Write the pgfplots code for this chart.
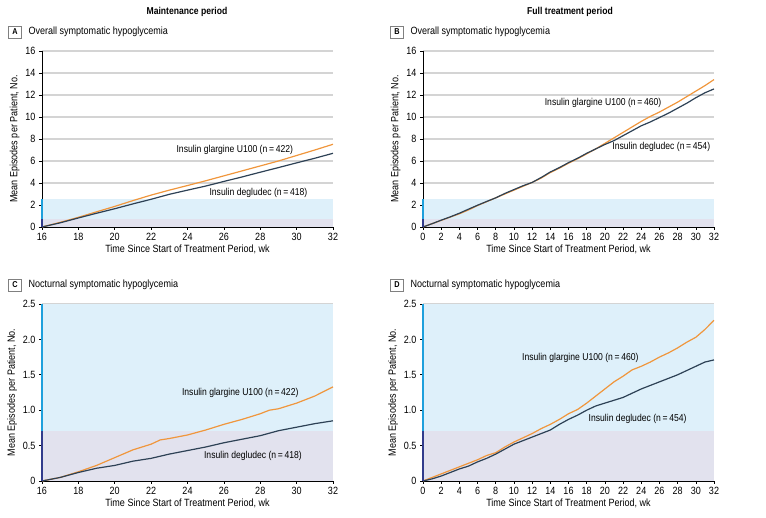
\documentclass[border=0pt]{standalone}
\usepackage{fontspec}
\setmainfont{Liberation Sans}[FakeStretch=0.86]
\usepackage{pgfplots}
\pgfplotsset{compat=1.18}
\definecolor{orL}{RGB}{240,150,60}
\definecolor{dkL}{RGB}{45,65,85}
\definecolor{bandB}{RGB}{222,240,250}
\definecolor{bandP}{RGB}{226,226,238}
\definecolor{spB}{RGB}{30,160,220}
\definecolor{spD}{RGB}{50,60,140}
\definecolor{gridg}{RGB}{212,212,212}
\tikzset{lab/.style={font=\fontsize{10}{12}\selectfont}}
\pgfplotsset{
  panel/.style={
    scale only axis, width=291pt, height=176pt,
    axis x line*=bottom, axis y line*=left,
    axis line style={black, line width=0.6pt},
    tick align=outside, major tick length=3pt,
    tick style={black, line width=0.6pt},
    ymajorgrids, grid style={gridg, line width=1.3pt},
    ticklabel style={font=\fontsize{10.5}{12}\selectfont},
    /pgf/number format/assume math mode=true,
    xlabel={Time Since Start of Treatment Period, wk},
    ylabel={Mean Episodes per Patient, No.},
    label style={font=\fontsize{10.5}{12}\selectfont},
    xlabel style={yshift=3pt},
    ylabel style={yshift=-1pt},
    clip=false, set layers,
  },
  pl/.style={line width=1.2pt},
}
\begin{document}
\begin{tikzpicture}
\path (0pt,0pt) rectangle (766pt,518pt);
\node[font=\fontsize{10}{12}\selectfont\bfseries] at (187pt,506pt) {Maintenance period};
\node[font=\fontsize{10}{12}\selectfont\bfseries] at (570pt,506pt) {Full treatment period};
% panel labels
\node[draw=gray, line width=0.5pt, inner sep=2pt, minimum width=13pt, minimum height=12pt, font=\fontsize{8.5}{10}\selectfont\bfseries] at (15pt,486pt) {A};
\node[anchor=west, font=\fontsize{10.5}{12}\selectfont] at (25pt,486pt) {Overall symptomatic hypoglycemia};
\node[draw=gray, line width=0.5pt, inner sep=2pt, minimum width=13pt, minimum height=12pt, font=\fontsize{8.5}{10}\selectfont\bfseries] at (397pt,486pt) {B};
\node[anchor=west, font=\fontsize{10.5}{12}\selectfont] at (407pt,486pt) {Overall symptomatic hypoglycemia};
\node[draw=gray, line width=0.5pt, inner sep=2pt, minimum width=13pt, minimum height=12pt, font=\fontsize{8.5}{10}\selectfont\bfseries] at (15pt,233pt) {C};
\node[anchor=west, font=\fontsize{10.5}{12}\selectfont] at (25pt,233pt) {Nocturnal symptomatic hypoglycemia};
\node[draw=gray, line width=0.5pt, inner sep=2pt, minimum width=13pt, minimum height=12pt, font=\fontsize{8.5}{10}\selectfont\bfseries] at (397pt,233pt) {D};
\node[anchor=west, font=\fontsize{10.5}{12}\selectfont] at (407pt,233pt) {Nocturnal symptomatic hypoglycemia};

% ---------- Panel A
\begin{axis}[panel, at={(42pt,291pt)}, anchor=south west,
  xmin=16, xmax=32, ymin=0, ymax=16,
  xtick={16,18,...,32}, ytick={0,2,...,16}]
\fill[bandB, on layer=axis background] (axis cs:16,0) rectangle (axis cs:32,2.5);
\fill[bandP, on layer=axis background] (axis cs:16,0) rectangle (axis cs:32,0.7);
\addplot[pl, orL] coordinates {(16,0)(17,0.42)(18,0.88)(19,1.38)(20,1.87)(21,2.4)(22,2.9)(23,3.35)(24,3.77)(25,4.2)(26,4.65)(27,5.1)(28,5.55)(29,6.0)(30,6.5)(31,7.0)(32,7.52)};
\addplot[pl, dkL] coordinates {(16,0)(17,0.38)(18,0.82)(19,1.25)(20,1.66)(21,2.1)(22,2.52)(23,2.97)(24,3.35)(25,3.72)(26,4.14)(27,4.55)(28,4.98)(29,5.4)(30,5.83)(31,6.25)(32,6.7)};
\draw[spD, line width=1.6pt] (axis cs:16,0) -- (axis cs:16,0.7);
\draw[spB, line width=1.6pt] (axis cs:16,0.7) -- (axis cs:16,2.5);
\node[lab] at (axis cs:26.6,7.0) {Insulin glargine U100 (n\,=\,422)};
\node[lab] at (axis cs:27.9,3.1) {Insulin degludec (n\,=\,418)};
\end{axis}

% ---------- Panel B
\begin{axis}[panel, at={(423pt,291pt)}, anchor=south west,
  xmin=0, xmax=32, ymin=0, ymax=16,
  xtick={0,2,...,32}, ytick={0,2,...,16}]
\fill[bandB, on layer=axis background] (axis cs:0,0) rectangle (axis cs:32,2.5);
\fill[bandP, on layer=axis background] (axis cs:0,0) rectangle (axis cs:32,0.7);
\addplot[pl, orL] coordinates {(0,0)(1,0.3)(2,0.6)(3,0.9)(4,1.2)(5,1.55)(6,1.95)(7,2.3)(8,2.65)(9,3.0)(10,3.35)(11,3.7)(12,4.05)(13,4.45)(14,4.95)(15,5.35)(16,5.8)(17,6.2)(18,6.65)(19,7.1)(20,7.6)(21,8.1)(22,8.6)(23,9.1)(24,9.6)(25,10.05)(26,10.45)(27,10.9)(28,11.35)(29,11.85)(30,12.35)(31,12.85)(32,13.4)};
\addplot[pl, dkL] coordinates {(0,0)(1,0.3)(2,0.62)(3,0.92)(4,1.25)(5,1.62)(6,1.98)(7,2.32)(8,2.65)(9,3.05)(10,3.4)(11,3.75)(12,4.05)(13,4.5)(14,5.0)(15,5.4)(16,5.85)(17,6.25)(18,6.7)(19,7.1)(20,7.5)(21,7.85)(22,8.3)(23,8.75)(24,9.2)(25,9.55)(26,9.95)(27,10.35)(28,10.8)(29,11.25)(30,11.75)(31,12.2)(32,12.55)};
\draw[spD, line width=1.6pt] (axis cs:0,0) -- (axis cs:0,0.7);
\draw[spB, line width=1.6pt] (axis cs:0,0.7) -- (axis cs:0,2.5);
\node[lab] at (axis cs:19.8,11.3) {Insulin glargine U100 (n\,=\,460)};
\node[lab] at (axis cs:26.2,7.3) {Insulin degludec (n\,=\,454)};
\end{axis}

% ---------- Panel C
\begin{axis}[panel, at={(42pt,37pt)}, anchor=south west, height=177pt,
  xmin=16, xmax=32, ymin=0, ymax=2.5,
  xtick={16,18,...,32}, ytick={0,0.5,1,1.5,2,2.5},
  yticklabels={0,0.5,1.0,1.5,2.0,2.5}]
\fill[bandB, on layer=axis background] (axis cs:16,0) rectangle (axis cs:32,2.5);
\fill[bandP, on layer=axis background] (axis cs:16,0) rectangle (axis cs:32,0.7);
\addplot[pl, orL] coordinates {(16,0)(17,0.05)(18,0.13)(19,0.22)(20,0.33)(21,0.44)(22,0.52)(22.5,0.58)(23,0.6)(24,0.65)(25,0.72)(26,0.8)(27,0.87)(28,0.95)(28.5,1.0)(29,1.02)(30,1.1)(31,1.2)(32,1.33)};
\addplot[pl, dkL] coordinates {(16,0)(17,0.05)(18,0.12)(19,0.18)(20,0.22)(21,0.28)(22,0.32)(23,0.38)(24,0.43)(25,0.48)(26,0.54)(27,0.59)(28,0.64)(29,0.71)(30,0.76)(31,0.81)(32,0.85)};
\draw[spD, line width=1.6pt] (axis cs:16,0) -- (axis cs:16,0.7);
\draw[spB, line width=1.6pt] (axis cs:16,0.7) -- (axis cs:16,2.5);
\node[lab] at (axis cs:26.9,1.24) {Insulin glargine U100 (n\,=\,422)};
\node[lab] at (axis cs:27.6,0.36) {Insulin degludec (n\,=\,418)};
\end{axis}

% ---------- Panel D
\begin{axis}[panel, at={(423pt,37pt)}, anchor=south west, height=177pt,
  xmin=0, xmax=32, ymin=0, ymax=2.5,
  xtick={0,2,...,32}, ytick={0,0.5,1,1.5,2,2.5},
  yticklabels={0,0.5,1.0,1.5,2.0,2.5}]
\fill[bandB, on layer=axis background] (axis cs:0,0) rectangle (axis cs:32,2.5);
\fill[bandP, on layer=axis background] (axis cs:0,0) rectangle (axis cs:32,0.7);
\addplot[pl, orL] coordinates {(0,0)(1,0.05)(2,0.1)(3,0.15)(4,0.2)(5,0.25)(6,0.3)(7,0.36)(8,0.4)(9,0.48)(10,0.55)(11,0.61)(12,0.67)(13,0.74)(14,0.8)(15,0.87)(16,0.95)(17,1.01)(18,1.1)(19,1.2)(20,1.3)(21,1.4)(22,1.48)(23,1.57)(24,1.62)(25,1.68)(26,1.75)(27,1.81)(28,1.88)(29,1.96)(30,2.03)(31,2.14)(32,2.27)};
\addplot[pl, dkL] coordinates {(0,0)(1,0.03)(2,0.07)(3,0.12)(4,0.17)(5,0.21)(6,0.27)(7,0.32)(8,0.38)(9,0.45)(10,0.52)(11,0.57)(12,0.62)(13,0.67)(14,0.72)(15,0.8)(16,0.87)(17,0.93)(18,1.0)(19,1.06)(20,1.1)(21,1.14)(22,1.18)(23,1.24)(24,1.3)(25,1.35)(26,1.4)(27,1.45)(28,1.5)(29,1.56)(30,1.62)(31,1.68)(32,1.71)};
\draw[spD, line width=1.6pt] (axis cs:0,0) -- (axis cs:0,0.7);
\draw[spB, line width=1.6pt] (axis cs:0,0.7) -- (axis cs:0,2.5);
\node[lab] at (axis cs:17.3,1.74) {Insulin glargine U100 (n\,=\,460)};
\node[lab] at (axis cs:23.6,0.87) {Insulin degludec (n\,=\,454)};
\end{axis}
\end{tikzpicture}
\end{document}
